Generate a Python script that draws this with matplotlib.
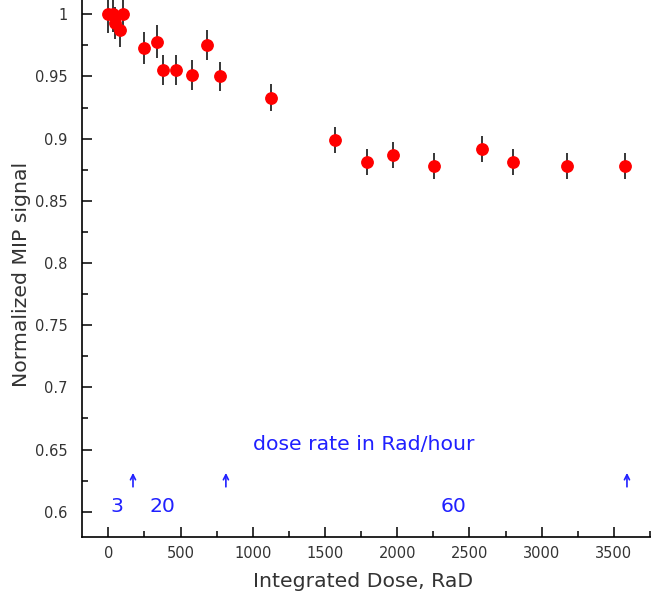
import matplotlib.pyplot as plt
from matplotlib.ticker import MultipleLocator, FormatStrFormatter, FuncFormatter

# integrated dose (Rad) and normalized MIP signal with errors
dose = [0, 30, 46, 81, 104, 247, 335, 376, 471, 579, 683, 775,
        1128, 1569, 1788, 1973, 2256, 2588, 2803, 3177, 3578]
signal = [1.0, 1.0, 0.993, 0.987, 1.0, 0.973, 0.978, 0.955, 0.955, 0.951, 0.975, 0.950,
          0.933, 0.899, 0.881, 0.887, 0.878, 0.892, 0.881, 0.878, 0.878]
err = [0.015, 0.014, 0.013, 0.013, 0.013, 0.013, 0.013, 0.012, 0.012, 0.012, 0.012, 0.012,
       0.011, 0.0105, 0.0105, 0.0105, 0.0105, 0.0105, 0.0105, 0.0105, 0.0105]

# dose rate periods: switch points and rates
switch_dose = [171, 814, 3590]
rate_labels = ['3', '20', '60']
rate_x = [12, 284, 2300]

W, H = 651, 598
fig = plt.figure(figsize=(W / 100, H / 100), dpi=100)
ax = fig.add_axes([81.7 / W, (H - 537.3) / H, 575.6 / W, 560.3 / H])

ax.errorbar(dose, signal, yerr=err, fmt='o', color='red', ms=8.2,
            ecolor='black', elinewidth=1.1, capsize=0, zorder=3)

ax.set_xlim(-184, 3800)
ax.set_ylim(0.5794, 1.03)

blue = '#2020ff'
ax.text(1000, 0.6496, 'dose rate in Rad/hour', color=blue, fontsize=14.7, va='baseline')
for xs in switch_dose:
    ax.annotate('', xy=(xs, 0.6312), xytext=(xs, 0.6200),
                arrowprops=dict(arrowstyle='->', color=blue, lw=1.2,
                                shrinkA=0, shrinkB=0, mutation_scale=9))
for lab, xs in zip(rate_labels, rate_x):
    ax.text(xs, 0.6, lab, color=blue, fontsize=14.7, va='baseline')

ax.xaxis.set_major_locator(MultipleLocator(500))
ax.xaxis.set_minor_locator(MultipleLocator(250))
ax.yaxis.set_major_locator(MultipleLocator(0.05))
ax.yaxis.set_minor_locator(MultipleLocator(0.025))
ax.yaxis.set_major_formatter(FuncFormatter(lambda v, p: '%g' % round(v, 3)))
ax.xaxis.set_major_formatter(FormatStrFormatter('%d'))
ax.tick_params(which='both', direction='in', width=1.1, labelsize=10.5, labelcolor='#333333')
ax.tick_params(which='major', length=7.5)
ax.tick_params(which='minor', length=4)
ax.tick_params(axis='y', pad=10)
ax.tick_params(axis='x', pad=6)
for s in ax.spines.values():
    s.set_linewidth(1.2)

fig.text(363 / W, 1 - 587 / H, 'Integrated Dose, RaD', fontsize=14.7, ha='center',
         va='baseline', color='#333333')
fig.text(22 / W, 1 - 274 / H, 'Normalized MIP signal', fontsize=14.7, ha='center',
         va='center', rotation=90, color='#333333')

fig.savefig('out.png', dpi=100)
